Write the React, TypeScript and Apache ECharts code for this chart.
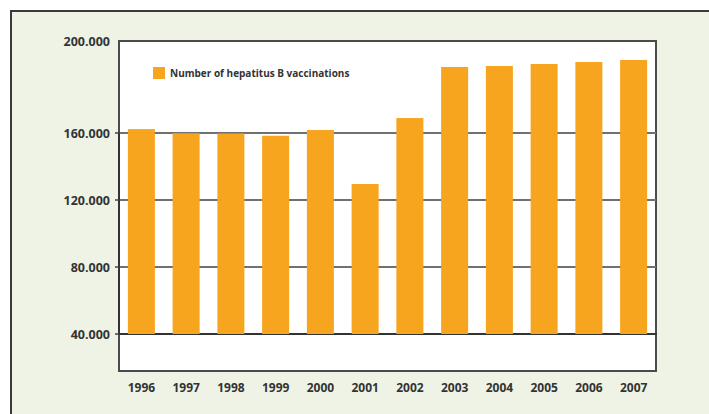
import React, { useEffect, useRef } from "react";
import * as echarts from "echarts";

// Years on the category axis
const years = ["1996", "1997", "1998", "1999", "2000", "2001", "2002", "2003", "2004", "2005", "2006", "2007"];

// Number of hepatitis B vaccinations per year
const vaccinations = [161700, 159800, 159700, 158400, 161300, 129600, 166500, 188700, 189100, 190000, 190900, 191700];

const seriesName = "Number of hepatitus B vaccinations";

// Value axis: lower segment 40.000–160.000, upper segment 160.000–200.000
const lowerMin = 40000;
const lowerMax = 160000;
const upperMax = 200000;
const tickStep = 40000;

const FONT = "'Open Sans', 'DejaVu Sans', sans-serif";
const BAR = "#f7a41e";
const TEXT = "#333333";

const fmt = (v: number) => String(Math.round(v)).replace(/\B(?=(\d{3})+(?!\d))/g, ".");

export default function App() {
  const ref = useRef<HTMLDivElement>(null);

  useEffect(() => {
    if (!ref.current) return;
    const chart = echarts.init(ref.current, undefined, { renderer: "svg" });

    const plotLeft = 119;
    const plotRight = 656;
    const plotTop = 41;
    const plotBottom = 371;
    const splitY = 133;
    const baseY = 334;

    chart.setOption({
      animation: false,
      graphic: [
        {
          type: "rect",
          z: -20,
          shape: { x: 11, y: 11, width: 740, height: 440 },
          style: { fill: "#eef3e6", stroke: "#3a3a3a", lineWidth: 2 },
        },
        {
          type: "rect",
          z: -10,
          shape: { x: plotLeft, y: plotTop, width: plotRight - plotLeft, height: plotBottom - plotTop },
          style: { fill: "#ffffff", stroke: "#4a4a4a", lineWidth: 2 },
        },
      ],
      legend: {
        data: [seriesName],
        left: 153,
        top: 67,
        itemWidth: 12,
        itemHeight: 12,
        icon: "rect",
        padding: 0,
        textStyle: { fontFamily: FONT, fontSize: 10, fontWeight: "bold", color: TEXT },
      },
      grid: [
        { left: plotLeft, right: 709 - plotRight, top: plotTop, height: splitY - plotTop },
        { left: plotLeft, right: 709 - plotRight, top: splitY, height: baseY - splitY },
      ],
      xAxis: [
        { type: "category", gridIndex: 0, data: years, show: false },
        {
          type: "category",
          gridIndex: 1,
          data: years,
          axisLine: { show: true, lineStyle: { color: "#333333", width: 2 } },
          axisTick: { show: false },
          axisLabel: {
            margin: 47,
            fontFamily: FONT,
            fontSize: 12,
            fontWeight: "bold",
            color: TEXT,
          },
        },
      ],
      yAxis: [
        {
          type: "value",
          gridIndex: 0,
          min: lowerMax,
          max: upperMax,
          interval: tickStep,
          axisLine: { show: false },
          axisTick: { show: false },
          splitLine: { show: false },
          axisLabel: {
            showMinLabel: false,
            margin: 9,
            fontFamily: FONT,
            fontSize: 12.5,
            fontWeight: "bold",
            color: TEXT,
            formatter: (v: number) => fmt(v),
          },
        },
        {
          type: "value",
          gridIndex: 1,
          min: lowerMin,
          max: lowerMax,
          interval: tickStep,
          axisLine: { show: true, lineStyle: { color: "#333333", width: 2 } },
          axisTick: { show: true, length: 4, lineStyle: { color: "#444444", width: 1.5 } },
          splitLine: { show: true, lineStyle: { color: "#707070", width: 2 } },
          axisLabel: {
            margin: 9,
            fontFamily: FONT,
            fontSize: 12.5,
            fontWeight: "bold",
            color: TEXT,
            formatter: (v: number) => fmt(v),
          },
        },
      ],
      series: [
        {
          name: seriesName,
          type: "bar",
          xAxisIndex: 0,
          yAxisIndex: 0,
          data: vaccinations,
          barWidth: 27,
          clip: true,
          itemStyle: { color: BAR },
        },
        {
          name: seriesName,
          type: "bar",
          xAxisIndex: 1,
          yAxisIndex: 1,
          data: vaccinations,
          barWidth: 27,
          clip: true,
          itemStyle: { color: BAR },
        },
      ],
    });

    return () => chart.dispose();
  }, []);

  return (
    <div
      ref={ref}
      style={{ position: "fixed", left: 0, top: 0, width: 709, height: 414, background: "#ffffff" }}
    />
  );
}
